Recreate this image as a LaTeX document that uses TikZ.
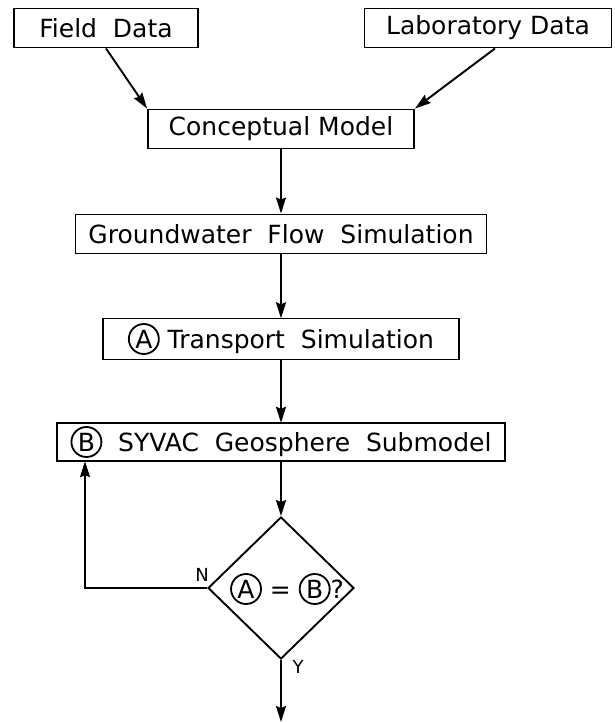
\documentclass[tikz,border=0pt]{standalone}
\usepackage{fontspec}
\setmainfont{DejaVu Sans}
\usetikzlibrary{arrows.meta,shapes.geometric}

% circled letter, as in the box texts
\newcommand{\ringlabel}[2]{\tikz[baseline=(#1.base)]\node[circle,draw,line width=1.8pt,minimum size=30pt,inner sep=0pt](#1){#2};}

\begin{document}
\begin{tikzpicture}[x=1pt,y=-1pt,line width=1.9pt,
    box/.style={draw,minimum height=39pt,inner sep=0pt,font=\fontsize{25}{29}\selectfont},
    flowarrow/.style={-{Stealth[length=16pt,width=10pt,inset=2pt]}},
    tag/.style={font=\fontsize{18}{20}\selectfont}]
          \useasboundingbox (0,0) rectangle (614,723);
          \node[box,minimum width=184pt] (field) at (106,28) {Field\ \ Data};
          \node[box,minimum width=247pt] (lab) at (488,28) {Laboratory\ Data};
          \node[box,minimum width=266pt] (concept) at (281,129) {Conceptual\ Model};
          \node[box,minimum width=411pt] (flow) at (281,234) {Groundwater\ \ Flow\ \ Simulation};
          \node[box,minimum width=356pt,minimum height=41pt] (transport) at (281,339) {\ringlabel{ra}{A}\ Transport\ \ Simulation};
          \node[box,minimum width=448pt,minimum height=38pt] (syvac) at (281,442) {\ringlabel{rb}{B}\ \ SYVAC\ \ Geosphere\ \ Submodel};
          \node[draw,diamond,minimum width=146pt,minimum height=142pt,inner sep=0pt] (check) at (281,588) {};
          \node[font=\fontsize{25}{29}\selectfont] (test) at (287,589) {\ringlabel{rc}{A} = \ringlabel{rd}{B}?};
          \node[tag] (no) at (202,575) {N};
          \node[tag] (yes) at (298,667) {Y};
          \coordinate (loop) at (85,588);
          \coordinate (exit) at (281,722);
          \draw[flowarrow] (field.south) -- (concept.north west);
          \draw[flowarrow] ([xshift=7pt]lab.south) -- (concept.north east);
          \draw[flowarrow] (concept) -- (flow);
          \draw[flowarrow] (flow) -- (transport);
          \draw[flowarrow] (transport) -- (syvac);
          \draw[flowarrow] (syvac) -- (check.north);
          \draw[flowarrow] (check.west) -- (loop) -- (loop |- syvac.south);
          \draw[flowarrow] (check.south) -- (exit);
        \end{tikzpicture}
\end{document}
